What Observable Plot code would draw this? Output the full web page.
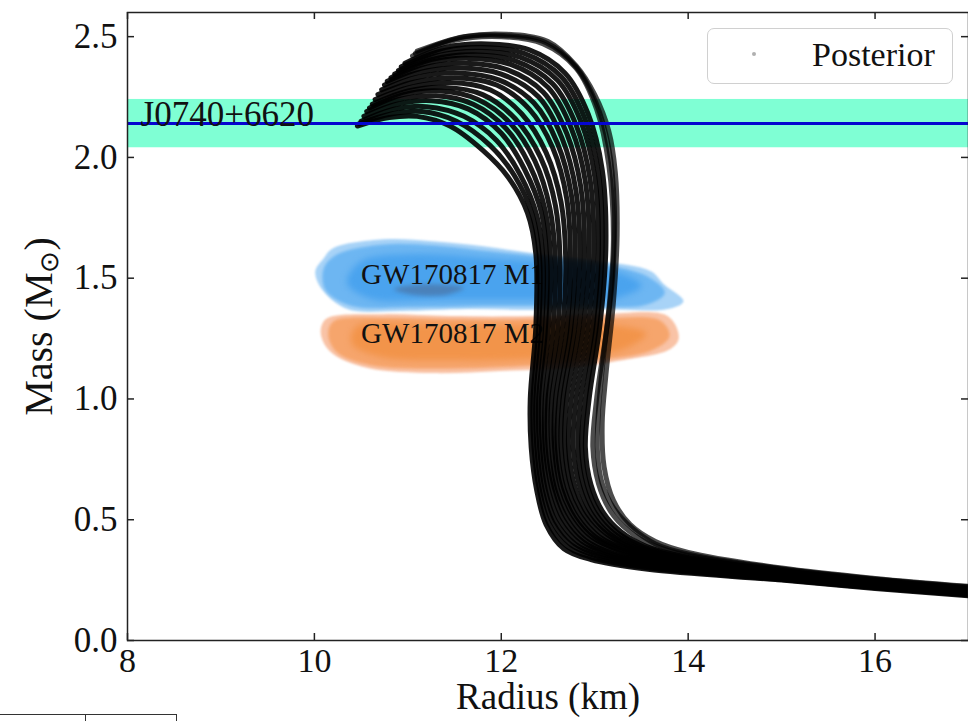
<!DOCTYPE html>
<html><head><meta charset="utf-8">
<script src="https://cdn.jsdelivr.net/npm/d3@7"></script>
<script src="https://cdn.jsdelivr.net/npm/@observablehq/plot@0.6"></script>
<style>
body{margin:0;background:#fff}
#wrap{position:relative;width:968px;height:721px;overflow:hidden;font-family:"Liberation Serif",serif}
#legend{position:absolute;left:707px;top:28px;width:244px;height:54px;border:1.5px solid #d0d0d0;border-radius:7px;background:rgba(255,255,255,0.85)}
#legend .dot{position:absolute;left:44px;top:23px;width:4px;height:4px;border-radius:50%;background:#b0b0b0}
#legend .lab{position:absolute;left:104px;top:6px;font-size:34px;color:#111;line-height:40px}
#stub{position:absolute;left:0;top:714px;width:176px;height:20px;border-top:1.5px solid #333;border-right:1.5px solid #333}
#stub2{position:absolute;left:85px;top:714px;width:0;height:20px;border-left:1.5px solid #333}
</style>
</head><body><div id="wrap"><div id="stub"></div><div id="stub2"></div></div>
<script>
// ---- data ----
const xTicks = [8, 10, 12, 14, 16];
const yTicks = [0, 0.5, 1.0, 1.5, 2.0, 2.5];
const yTickLabels = ["0.0", "0.5", "1.0", "1.5", "2.0", "2.5"];

const j0740Mass = 2.14;
const j0740Err = 0.1;

// GW170817 credible regions (radius km, mass Msun)
const gwM1Outer = [[10.20,1.624],[10.74,1.661],[11.27,1.653],[11.81,1.632],[12.34,1.603],[13.06,1.570],[13.60,1.529],[13.74,1.475],[13.95,1.405],[13.78,1.372],[13.06,1.372],[12.34,1.368],[11.64,1.372],[10.92,1.364],[10.35,1.372],[10.07,1.459],[10.01,1.529],[10.10,1.583]];
const gwM1Mid = [[10.25,1.60],[10.75,1.64],[11.3,1.635],[11.9,1.61],[12.5,1.585],[13.1,1.555],[13.55,1.51],[13.75,1.44],[13.55,1.39],[12.8,1.385],[11.9,1.385],[11.0,1.38],[10.4,1.385],[10.12,1.45],[10.1,1.54]];
const gwM1Core = [[10.5,1.57],[11.1,1.6],[11.8,1.585],[12.6,1.56],[13.2,1.53],[13.5,1.47],[13.2,1.415],[12.3,1.41],[11.3,1.41],[10.6,1.415],[10.35,1.48]];
const gwM1Peak = [[10.85,1.455],[11.2,1.475],[11.6,1.46],[11.4,1.43],[11.0,1.435]];
const gwM2Outer = [[10.14,1.335],[10.74,1.351],[11.46,1.343],[12.35,1.343],[13.06,1.351],[13.78,1.343],[13.90,1.252],[13.81,1.207],[13.24,1.157],[12.71,1.128],[11.99,1.116],[11.27,1.107],[10.57,1.128],[10.20,1.186],[10.09,1.240],[10.07,1.293]];
const gwM2Mid = [[10.2,1.32],[10.8,1.335],[11.5,1.33],[12.4,1.33],[13.1,1.335],[13.7,1.325],[13.8,1.26],[13.6,1.2],[13.0,1.16],[12.2,1.135],[11.3,1.125],[10.6,1.14],[10.25,1.19],[10.15,1.26]];
const gwM2Core = [[10.45,1.3],[11.2,1.31],[12.2,1.305],[13.2,1.305],[13.55,1.27],[13.3,1.205],[12.5,1.17],[11.5,1.16],[10.7,1.175],[10.4,1.23]];

// posterior mass-radius curves (radius km, mass Msun)
const eos01 = [[10.46,2.13],[10.8,2.165],[11.1,2.17],[11.45,2.13],[11.8,2.03],[12.07,1.92],[12.28,1.77],[12.37,1.6],[12.37,1.3],[12.31,1.0],[12.32,0.8],[12.38,0.62],[12.48,0.48],[12.67,0.38],[12.96,0.335],[13.57,0.295],[15,0.25],[16,0.215],[17,0.185]];
const eos01b = [[10.48,2.14],[10.82,2.18],[11.15,2.19],[11.52,2.15],[11.88,2.05],[12.14,1.925],[12.33,1.765],[12.41,1.58],[12.4,1.29],[12.34,1.0],[12.35,0.8],[12.41,0.62],[12.51,0.485],[12.71,0.388],[13.0,0.34],[13.58,0.3],[15,0.252],[16,0.218],[17,0.188]];
const eos02 = [[10.5,2.15],[10.85,2.2],[11.2,2.21],[11.6,2.17],[11.95,2.07],[12.2,1.93],[12.38,1.76],[12.45,1.55],[12.43,1.28],[12.37,1.0],[12.38,0.8],[12.44,0.62],[12.55,0.49],[12.75,0.395],[13.05,0.345],[13.6,0.305],[15,0.255],[16,0.22],[17,0.19]];
const eos02b = [[10.53,2.17],[10.88,2.22],[11.25,2.235],[11.65,2.2],[12.0,2.1],[12.25,1.95],[12.43,1.77],[12.49,1.55],[12.47,1.275],[12.4,1.0],[12.41,0.8],[12.47,0.625],[12.58,0.495],[12.79,0.4],[13.08,0.35],[13.62,0.308],[15,0.258],[16,0.223],[17,0.193]];
const eos03 = [[10.56,2.19],[10.9,2.24],[11.3,2.255],[11.7,2.22],[12.05,2.12],[12.3,1.97],[12.47,1.78],[12.53,1.55],[12.5,1.27],[12.43,1.0],[12.44,0.8],[12.5,0.63],[12.62,0.5],[12.83,0.405],[13.12,0.355],[13.65,0.31],[15,0.26],[16,0.225],[17,0.195]];
const eos03b = [[10.59,2.205],[10.95,2.26],[11.35,2.275],[11.75,2.24],[12.1,2.14],[12.36,1.985],[12.52,1.79],[12.58,1.55],[12.55,1.27],[12.47,1.0],[12.47,0.8],[12.54,0.63],[12.66,0.503],[12.87,0.41],[13.16,0.358],[13.68,0.314],[15,0.262],[16,0.228],[17,0.197]];
const eos04 = [[10.62,2.22],[11.0,2.275],[11.4,2.29],[11.8,2.26],[12.15,2.16],[12.42,2.0],[12.58,1.8],[12.63,1.55],[12.6,1.27],[12.5,1.0],[12.5,0.8],[12.57,0.63],[12.7,0.505],[12.9,0.415],[13.2,0.36],[13.7,0.318],[15,0.265],[16,0.23],[17,0.198]];
const eos04b = [[10.65,2.24],[11.02,2.29],[11.45,2.31],[11.88,2.28],[12.22,2.18],[12.48,2.02],[12.64,1.815],[12.69,1.56],[12.65,1.275],[12.54,1.0],[12.54,0.8],[12.6,0.63],[12.74,0.508],[12.94,0.42],[13.24,0.365],[13.72,0.322],[15,0.268],[16,0.232],[17,0.199]];
const eos05 = [[10.68,2.26],[11.05,2.31],[11.5,2.33],[11.95,2.3],[12.3,2.2],[12.55,2.04],[12.7,1.83],[12.74,1.57],[12.7,1.28],[12.58,1.0],[12.57,0.8],[12.64,0.63],[12.78,0.51],[12.98,0.425],[13.28,0.37],[13.75,0.325],[15,0.27],[16,0.233],[17,0.2]];
const eos05b = [[10.72,2.28],[11.08,2.33],[11.52,2.35],[11.98,2.32],[12.35,2.225],[12.6,2.06],[12.75,1.845],[12.79,1.575],[12.74,1.28],[12.62,1.0],[12.6,0.8],[12.67,0.63],[12.81,0.512],[13.01,0.428],[13.31,0.372],[13.78,0.328],[15,0.272],[16,0.235],[17,0.202]];
const eos06 = [[10.75,2.3],[11.1,2.35],[11.55,2.37],[12.0,2.345],[12.4,2.25],[12.65,2.08],[12.8,1.86],[12.84,1.58],[12.78,1.28],[12.66,1.0],[12.64,0.8],[12.71,0.63],[12.85,0.515],[13.05,0.43],[13.35,0.375],[13.8,0.332],[15,0.275],[16,0.237],[17,0.204]];
const eos06b = [[10.78,2.315],[11.15,2.37],[11.6,2.39],[12.05,2.365],[12.45,2.27],[12.7,2.1],[12.85,1.88],[12.89,1.59],[12.83,1.29],[12.7,1.0],[12.68,0.8],[12.75,0.632],[12.89,0.518],[13.09,0.435],[13.38,0.378],[13.82,0.335],[15,0.278],[16,0.239],[17,0.206]];
const eos07 = [[10.82,2.33],[11.2,2.39],[11.65,2.41],[12.1,2.385],[12.5,2.29],[12.75,2.12],[12.9,1.9],[12.94,1.6],[12.88,1.3],[12.75,1.0],[12.72,0.8],[12.79,0.635],[12.93,0.52],[13.13,0.44],[13.42,0.38],[13.85,0.338],[15,0.28],[16,0.241],[17,0.208]];
const eos07b = [[10.86,2.345],[11.25,2.405],[11.7,2.425],[12.15,2.4],[12.55,2.305],[12.8,2.135],[12.95,1.91],[12.99,1.61],[12.93,1.3],[12.8,1.0],[12.77,0.8],[12.84,0.637],[12.97,0.522],[13.16,0.442],[13.45,0.382],[13.88,0.34],[15,0.282],[16,0.243],[17,0.21]];
const eos08 = [[10.9,2.36],[11.3,2.42],[11.75,2.44],[12.2,2.415],[12.6,2.32],[12.85,2.15],[13.0,1.92],[13.04,1.62],[12.98,1.3],[12.85,1.0],[12.82,0.8],[12.88,0.64],[13.01,0.525],[13.2,0.445],[13.48,0.385],[13.9,0.343],[15,0.285],[16,0.245],[17,0.212]];
const eos08b = [[10.93,2.375],[11.35,2.44],[11.8,2.455],[12.25,2.43],[12.64,2.335],[12.89,2.165],[13.04,1.935],[13.08,1.63],[13.02,1.31],[12.9,1.0],[12.86,0.8],[12.92,0.642],[13.05,0.527],[13.24,0.447],[13.52,0.388],[13.92,0.345],[15,0.287],[16,0.247],[17,0.214]];
const eos09 = [[10.97,2.39],[11.4,2.455],[11.85,2.47],[12.3,2.445],[12.68,2.35],[12.93,2.18],[13.08,1.95],[13.12,1.64],[13.06,1.32],[12.94,1.0],[12.9,0.8],[12.96,0.645],[13.09,0.53],[13.28,0.45],[13.55,0.39],[13.95,0.348],[15,0.29],[16,0.249],[17,0.216]];
const eos10 = [[11.05,2.42],[11.5,2.485],[12.0,2.5],[12.45,2.47],[12.8,2.37],[13.02,2.2],[13.15,1.97],[13.2,1.66],[13.14,1.33],[13.02,1.0],[12.98,0.8],[13.04,0.65],[13.17,0.535],[13.36,0.455],[13.62,0.395],[14.0,0.352],[15,0.295],[16,0.253],[17,0.22]];
const eos10b = [[11.08,2.43],[11.55,2.495],[12.02,2.505],[12.48,2.475],[12.8,2.375],[13.01,2.23],[13.15,2.04],[13.21,1.8],[13.19,1.5],[13.1,1.2],[13.04,0.95],[13.03,0.78],[13.08,0.65],[13.2,0.55],[13.4,0.465],[13.65,0.4],[14.0,0.358],[15,0.297],[16,0.255],[17,0.222]];
const eos11 = [[11.1,2.44],[11.6,2.5],[12.05,2.51],[12.5,2.48],[12.8,2.38],[13.0,2.26],[13.15,2.11],[13.22,1.94],[13.24,1.68],[13.2,1.4],[13.12,1.1],[13.08,0.9],[13.1,0.72],[13.2,0.58],[13.38,0.48],[13.65,0.41],[14.0,0.365],[15,0.3],[16,0.257],[17,0.224]];
const posteriorCurves = [eos01, eos01b, eos02, eos02b, eos03, eos03b, eos04, eos04b, eos05, eos05b, eos06, eos06b, eos07, eos07b, eos08, eos08b, eos09, eos10, eos10b, eos11];

// ---- build ----
const pts = a => a.map(([r, m]) => ({r, m}));
const blob = (a, fill, opacity = 1, blur = "blur(1.5px)") => Plot.line(pts(a), {x: "r", y: "m", curve: "catmull-rom-closed", fill, fillOpacity: opacity, stroke: null, imageFilter: blur});

const FONT = "Liberation Serif";
const plot = Plot.plot({
  width: 968, height: 721,
  marginLeft: 127, marginRight: 0, marginTop: 12, marginBottom: 81,
  x: {domain: [8, 17], axis: null},
  y: {domain: [0, 2.6], axis: null},
  style: {fontFamily: FONT, background: "transparent", color: "#111"},
  marks: [
    Plot.rect([{lo: j0740Mass - j0740Err, hi: j0740Mass + j0740Err}], {y1: "lo", y2: "hi", fill: "#7fffd4"}),
    blob(gwM1Outer, "#a8d3f7", 1, "blur(1px)"),
    blob(gwM1Mid, "#6db6f2"),
    blob(gwM1Core, "#4aa3ee", 1, "blur(3px)"),
    blob(gwM1Peak, "#4a6690", 0.55, "blur(2px)"),
    blob(gwM2Outer, "#f9c3a6", 1, "blur(1px)"),
    blob(gwM2Mid, "#f6a56c"),
    blob(gwM2Core, "#f2944a", 1, "blur(3px)"),
    Plot.text(["GW170817 M1"], {x: 10.5, y: 1.475, text: d => d, textAnchor: "start", lineAnchor: "bottom", fontSize: 29, fill: "#111"}),
    Plot.text(["GW170817 M2"], {x: 10.5, y: 1.231, text: d => d, textAnchor: "start", lineAnchor: "bottom", fontSize: 29, fill: "#111"}),
    ...posteriorCurves.map((c, i) => Plot.line(pts(c), {x: "r", y: "m", curve: "catmull-rom", stroke: "#000", strokeWidth: 5, strokeOpacity: i >= 17 ? 0.7 : 0.9})),
    Plot.ruleY([j0740Mass], {stroke: "#0505d0", strokeWidth: 3}),
    Plot.text(["J0740+6620"], {x: 8.14, y: j0740Mass, text: d => d, textAnchor: "start", lineAnchor: "bottom", dy: 2, fontSize: 35, fill: "#111"}),
    // inward ticks
    Plot.ruleX(xTicks, {x: d => d, y1: 0, y2: 0.029, stroke: "#222", strokeWidth: 1.5}),
    Plot.ruleX(xTicks, {x: d => d, y1: 2.6, y2: 2.571, stroke: "#222", strokeWidth: 1.5}),
    Plot.ruleY(yTicks, {y: d => d, x1: 8, x2: 8.075, stroke: "#222", strokeWidth: 1.5}),
    Plot.ruleY(yTicks, {y: d => d, x1: 17, x2: 16.925, stroke: "#222", strokeWidth: 1.5}),
    // tick labels
    Plot.text(xTicks, {x: d => d, frameAnchor: "bottom", dy: 21, text: d => String(d), fontSize: 34, lineAnchor: "middle", textAnchor: "middle"}),
    Plot.text(yTicks, {y: d => d, frameAnchor: "left", dx: -10, text: (d, i) => yTickLabels[i], fontSize: 35, textAnchor: "end", lineAnchor: "middle"}),
    // axis titles
    Plot.text(["Radius (km)"], {x: 12.5, frameAnchor: "bottom", dy: 57, text: d => d, fontSize: 37, lineAnchor: "middle", textAnchor: "middle"}),
    Plot.text(["Mass (M⊙)"], {y: 1.3, frameAnchor: "left", dx: -88, rotate: -90, text: d => d, fontSize: 40, lineAnchor: "middle", textAnchor: "middle"}),
    Plot.frame({stroke: "#222", strokeWidth: 1.5})
  ]
});

// subscript the solar symbol
plot.querySelectorAll("text").forEach(t => {
  if (t.textContent === "Mass (M⊙)") {
    t.innerHTML = 'Mass (M<tspan baseline-shift="-22%" font-size="26">⊙</tspan>)';
  }
});

const wrap = document.getElementById("wrap");
wrap.prepend(plot);
plot.style.position = "absolute"; plot.style.left = "0"; plot.style.top = "0";
const lg = document.createElement("div");
lg.id = "legend";
lg.innerHTML = '<div class="dot"></div><div class="lab">Posterior</div>';
wrap.appendChild(lg);
</script></body></html>
